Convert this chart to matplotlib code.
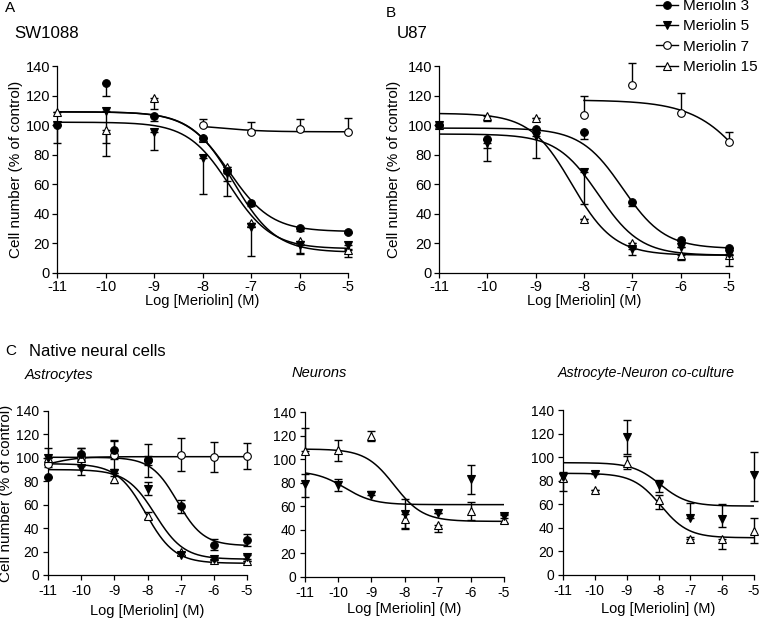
import numpy as np
import matplotlib
matplotlib.use("Agg")
import matplotlib.pyplot as plt
from matplotlib.lines import Line2D

plt.rcParams.update({
    "font.family": ["Liberation Sans", "DejaVu Sans"],
    "font.size": 10,
    "axes.unicode_minus": False,
    "axes.linewidth": 0.9,
    "xtick.major.width": 0.9,
    "ytick.major.width": 0.9,
    "xtick.major.size": 3.5,
    "ytick.major.size": 3.5,
})

# ---------------------------------------------------------------------------
# data (log M, % of control)
# ---------------------------------------------------------------------------
X_FULL = [-11, -10, -9, -8, -7, -6, -5]
X_SW = [-11, -10, -9, -8, -7.5, -7, -6, -5]
X_M7 = [-8, -7, -6, -5]
TICKS_X = [-11, -10, -9, -8, -7, -6, -5]
TICKS_Y = [0, 20, 40, 60, 80, 100, 120, 140]

# A  SW1088
sw_m3 = [100, 128.8, 106.4, 91, 69, 47.3, 30.1, 27.9]
sw_m3_lo = [0, 9, 3.5, 2, 6.5, 2, 1.5, 1]
sw_m5 = [100, 109.6, 95.2, 78, 67.8, 30.8, 19.2, 19.2]
sw_m5_lo = [12, 21.6, 12, 24.5, 16, 19, 6, 3]
sw_m7 = [100, 95.2, 97.3, 95.4]
sw_m7_hi = [4.3, 6.6, 6.6, 9.2]
sw_m15 = [109, 96.8, 118.5, 91, 71.7, 33.6, 21.7, 15.8]
sw_m15_lo = [0, 17.6, 7.3, 0, 0, 0, 8.7, 5]

# B  U87
u87_m3 = [99.9, 90.5, 97.6, 95.3, 48, 22.2, 16.7]
u87_m3_lo = [0, 6, 0, 5, 3, 0, 0]
u87_m5 = [100, 88, 92.6, 68.6, 16, 17.8, 12.6]
u87_m5_lo = [0, 12, 15, 21.7, 3.5, 0, 8]
u87_m7 = [107, 126.9, 107.9, 88.7]
u87_m7_hi = [13, 14.8, 13.7, 6.6]
u87_m15 = [100, 106.3, 104.7, 36.3, 20.6, 12.1, 12]
u87_m15_lo = [0, 3.4, 0, 0, 0, 3, 0]

# C  astrocytes
ast_m3 = [84, 103, 107, 98, 58.6, 26, 30]
ast_m3_err = [0, 5, 8, 4, 5.5, 5, 5]
ast_m5 = [100, 91, 87, 73.8, 17, 13.5, 15.5]
ast_m5_err = [0, 6, 0, 5.5, 0, 0, 2]
ast_m7 = [94.4, 100.8, 102.8, 98, 102.8, 100.8, 101.4]
ast_m7_err = [0, 8, 12, 14, 14, 13, 11]
ast_m15 = [100, 100, 81.7, 50.7, 19.7, 13, 12.1]
ast_m15_err = [8, 0, 3, 3, 0, 0, 0]

# C  neurons
neu_m5 = [79.2, 77.8, 69.9, 53.7, 54.6, 83.4, 51.8]
neu_m5_hi = [8.5, 5, 3, 0, 0, 11.3, 2]
neu_m5_lo = [11.3, 5, 0, 12.7, 0, 12.7, 2]
neu_m15 = [106.6, 107.5, 119.3, 49.5, 43.8, 56, 48.6]
neu_m15_hi = [20, 9, 4.3, 17, 0, 7.6, 4]
neu_m15_lo = [0, 9, 4, 8, 5.6, 7.4, 3]

# C  astrocyte-neuron co-culture
co_m5 = [83.4, 85.4, 117.4, 76.4, 48.1, 47.2, 84.8]
co_m5_hi = [4, 2.8, 14, 4.2, 12.7, 12.8, 19.8]
co_m5_lo = [4, 0, 15, 6.3, 0, 6.2, 21.8]
co_m15 = [82.6, 72.1, 95.3, 63.6, 30.5, 30.5, 37.3]
co_m15_hi = [4, 0, 6, 4, 2, 0, 11.3]
co_m15_lo = [11.3, 0, 5.7, 7.6, 0, 8.5, 9.9]

# sigmoid fit parameters: (top, bottom, logEC50, hill)
FIT_SW = {"m3": (109, 28, -7.45, 1), "m5": (102, 16.4, -7.44, 1),
          "m7": (100.5, 95.5, -7.6, 1), "m15": (109, 14, -7.36, 1)}
FIT_U87 = {"m3": (98, 16.5, -7.2, 1), "m5": (94, 12, -7.7, 1),
           "m7": (117, 0, -4.28, 0.7), "m15": (108, 12, -8.25, 1)}
FIT_AST = {"m3": (100.5, 25, -7.1, 1.1), "m5": (90, 13.5, -7.77, 1),
           "m7": (90, 101, -10.9, 1), "m15": (95, 10, -8.05, 1)}
FIT_NEU = {"m5": (90, 61.4, -9.8, 1), "m15": (108.6, 47.2, -8.31, 1)}
FIT_CO = {"m5": (95.3, 58.5, -7.95, 1), "m15": (86.3, 31.6, -7.93, 1)}

STYLE = {
    "m3": dict(marker="o", mfc="black", label="Meriolin 3"),
    "m5": dict(marker="v", mfc="black", label="Meriolin 5"),
    "m7": dict(marker="o", mfc="white", label="Meriolin 7"),
    "m15": dict(marker="^", mfc="white", label="Meriolin 15"),
}
MS = 5.5


def sigmoid(x, top, bottom, x0, hill):
    return bottom + (top - bottom) / (1 + 10 ** ((x - x0) * hill))


def draw(ax, key, x, y, fit, lo=None, hi=None, xstart=-11):
    xs = np.linspace(xstart, -5, 300)
    ax.plot(xs, sigmoid(xs, *fit), color="black", lw=1.1, zorder=2)
    n = len(y)
    lo = lo if lo is not None else [0] * n
    hi = hi if hi is not None else [0] * n
    ax.errorbar(x, y, yerr=[lo, hi], fmt="none", ecolor="black",
                elinewidth=1.0, capsize=3, capthick=1.0, zorder=3, clip_on=False)
    st = STYLE[key]
    ax.plot(x, y, linestyle="none", marker=st["marker"], mfc=st["mfc"],
            mec="black", mew=0.8, ms=MS, zorder=4, clip_on=False)


W, H = 762, 622
fig = plt.figure(figsize=(W / 100, H / 100), dpi=100)


def add_ax(l, r, t, b):
    return fig.add_axes([l / W, 1 - b / H, (r - l) / W, (b - t) / H])


def style_axes(ax, box, tick_fs, pad, ylab_x=None, xlab_top=None, lab_fs=10.5):
    l, r, t, b = box
    ax.set_xlim(-11, -5)
    ax.set_ylim(0, 140)
    ax.set_xticks(TICKS_X)
    ax.set_xticklabels([str(t) for t in TICKS_X])
    ax.set_yticks(TICKS_Y)
    ax.spines["top"].set_visible(False)
    ax.spines["right"].set_visible(False)
    ax.tick_params(direction="out", pad=pad, labelsize=tick_fs)
    ax.set_xlabel("Log [Meriolin] (M)", fontsize=lab_fs)
    ax.xaxis.set_label_coords(0.5, -(xlab_top - b) / (b - t))
    if ylab_x is not None:
        ax.set_ylabel("Cell number (% of control)", fontsize=11)
        ax.yaxis.set_label_coords((ylab_x - l) / (r - l), 0.5)


BOX_A = (57, 348, 66, 273)
BOX_B = (439, 729, 66, 273)
BOX_C1 = (48, 247, 411, 575)
BOX_C2 = (305, 504, 412, 577)
BOX_C3 = (563, 754, 410, 575)

axA = add_ax(*BOX_A)
axB = add_ax(*BOX_B)
axC1 = add_ax(*BOX_C1)
axC2 = add_ax(*BOX_C2)
axC3 = add_ax(*BOX_C3)

# A
draw(axA, "m7", X_M7, sw_m7, FIT_SW["m7"], hi=sw_m7_hi, xstart=-8)
draw(axA, "m15", X_SW, sw_m15, FIT_SW["m15"], lo=sw_m15_lo)
draw(axA, "m5", X_SW, sw_m5, FIT_SW["m5"], lo=sw_m5_lo)
draw(axA, "m3", X_SW, sw_m3, FIT_SW["m3"], lo=sw_m3_lo)
style_axes(axA, BOX_A, 10.5, 1.5, ylab_x=23, xlab_top=294)

# B
draw(axB, "m7", X_M7, u87_m7, FIT_U87["m7"], hi=u87_m7_hi, xstart=-8)
draw(axB, "m15", X_FULL, u87_m15, FIT_U87["m15"], lo=u87_m15_lo)
draw(axB, "m5", X_FULL, u87_m5, FIT_U87["m5"], lo=u87_m5_lo)
draw(axB, "m3", X_FULL, u87_m3, FIT_U87["m3"], lo=u87_m3_lo)
style_axes(axB, BOX_B, 10.5, 1.5, ylab_x=401, xlab_top=294)

# C astrocytes
draw(axC1, "m7", X_FULL, ast_m7, FIT_AST["m7"], lo=ast_m7_err, hi=ast_m7_err)
draw(axC1, "m15", X_FULL, ast_m15, FIT_AST["m15"], lo=ast_m15_err, hi=ast_m15_err)
draw(axC1, "m5", X_FULL, ast_m5, FIT_AST["m5"], lo=ast_m5_err, hi=ast_m5_err)
draw(axC1, "m3", X_FULL, ast_m3, FIT_AST["m3"], lo=ast_m3_err, hi=ast_m3_err)
style_axes(axC1, BOX_C1, 10, 3, ylab_x=13.5, xlab_top=604)

# C neurons
draw(axC2, "m15", X_FULL, neu_m15, FIT_NEU["m15"], lo=neu_m15_lo, hi=neu_m15_hi)
draw(axC2, "m5", X_FULL, neu_m5, FIT_NEU["m5"], lo=neu_m5_lo, hi=neu_m5_hi)
style_axes(axC2, BOX_C2, 10, 3, xlab_top=602)

# C co-culture
draw(axC3, "m15", X_FULL, co_m15, FIT_CO["m15"], lo=co_m15_lo, hi=co_m15_hi)
draw(axC3, "m5", X_FULL, co_m5, FIT_CO["m5"], lo=co_m5_lo, hi=co_m5_hi)
style_axes(axC3, BOX_C3, 10, 3, xlab_top=602)

# panel letters and titles
fig.text(5 / W, 1 - 8 / H, "A", fontsize=11, va="center", ha="left")
fig.text(14 / W, 1 - 33 / H, "SW1088", fontsize=12.2, va="center", ha="left")
fig.text(386 / W, 1 - 13 / H, "B", fontsize=11, va="center", ha="left")
fig.text(397 / W, 1 - 33 / H, "U87", fontsize=12.2, va="center", ha="left")
fig.text(5 / W, 1 - 351 / H, "C", fontsize=11, va="center", ha="left")
fig.text(29 / W, 1 - 351 / H, "Native neural cells", fontsize=12, va="center", ha="left")
fig.text(25 / W, 1 - 375 / H, "Astrocytes", fontsize=10.5, style="italic", va="center", ha="left")
fig.text(292 / W, 1 - 373 / H, "Neurons", fontsize=10.5, style="italic", va="center", ha="left")
fig.text(558 / W, 1 - 373 / H, "Astrocyte-Neuron co-culture", fontsize=10.3,
         style="italic", va="center", ha="left")

# legend
handles = [Line2D([], [], color="black", lw=1.0, marker=STYLE[k]["marker"],
                  mfc=STYLE[k]["mfc"], mec="black", mew=0.8, ms=MS)
           for k in ["m3", "m5", "m7", "m15"]]
labels = [STYLE[k]["label"] for k in ["m3", "m5", "m7", "m15"]]
fig.legend(handles, labels, loc="upper left", bbox_to_anchor=(656 / W, 1 + 1 / H),
           frameon=False, handlelength=1.45, handletextpad=0.3, labelspacing=0.42,
           borderpad=0, borderaxespad=0, fontsize=11)

fig.savefig("out.png", dpi=100)
